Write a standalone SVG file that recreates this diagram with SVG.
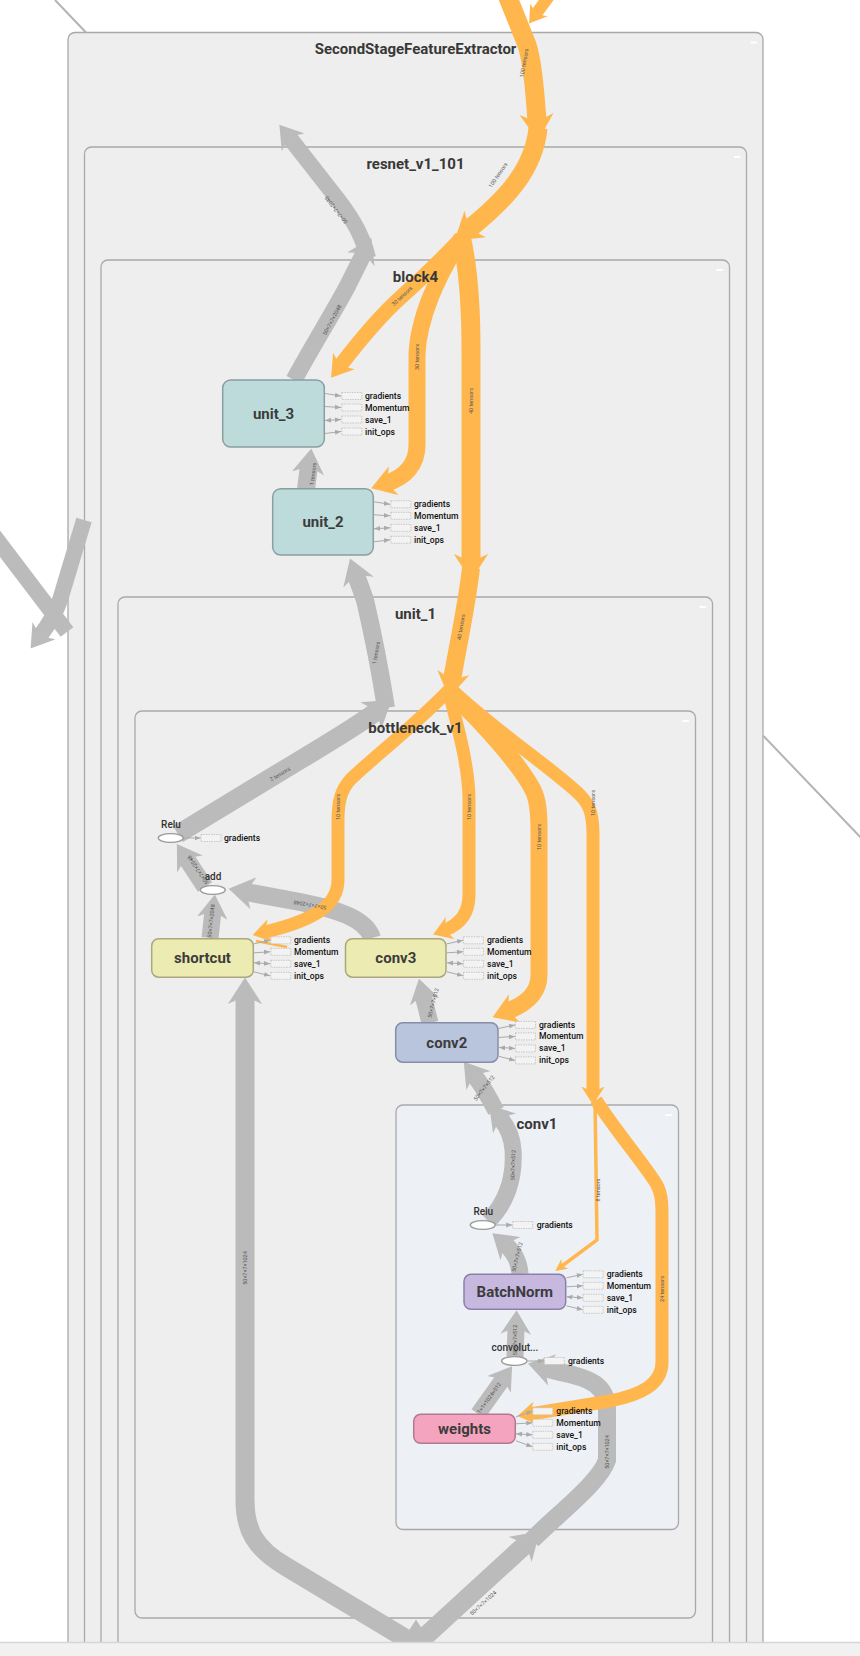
<svg xmlns="http://www.w3.org/2000/svg" width="860" height="1656" viewBox="0 0 860 1656">
<defs>
<style>
.ct{fill:#eeeeee;stroke:#a9a9a9;stroke-width:1.3}
.c1{fill:#edf0f5;stroke:#a9a9a9;stroke-width:1.3}
.ttl{font-family:Roboto,"Liberation Sans",sans-serif;font-size:15px;font-weight:bold;fill:#383838;text-anchor:middle}
.mn{stroke:#ffffff;stroke-width:1.8}
.ge{fill:none;stroke:#bbbbbb;marker-end:url(#ag)}
.gn{fill:none;stroke:#bbbbbb}
.oe{fill:none;stroke:#ffb74d;marker-end:url(#ao)}
.el{font-family:Roboto,"Liberation Sans",sans-serif;font-size:5.5px;fill:#555555;text-anchor:middle;dominant-baseline:central}
.nl{font-family:Roboto,"Liberation Sans",sans-serif;font-size:15px;font-weight:bold;fill:#3c3c3c;text-anchor:middle}
.ol{font-family:Roboto,"Liberation Sans",sans-serif;font-size:10px;font-weight:500;fill:#333333;text-anchor:middle}
.ab{fill:#f3f3f3;stroke:#bdbdbd;stroke-width:0.8;stroke-dasharray:1.5 1}
.at{font-family:Roboto,"Liberation Sans",sans-serif;font-size:8.6px;font-weight:500;fill:#111111}
.aa{stroke:#aaaaaa;stroke-width:1;fill:none;marker-end:url(#sa)}
.ad{stroke:#aaaaaa;stroke-width:1;fill:none;marker-end:url(#sa);marker-start:url(#ss)}
.op{fill:#ffffff;stroke:#9a9a9a;stroke-width:1.3}
</style>
<marker id="ag" viewBox="0 0 10 10" refX="3" refY="5" markerUnits="strokeWidth" markerWidth="1.4" markerHeight="1.8" orient="auto" preserveAspectRatio="none"><path d="M0,0L10,5L0,10L3,5z" fill="#bbbbbb"/></marker>
<marker id="ao" viewBox="0 0 10 10" refX="3" refY="5" markerUnits="strokeWidth" markerWidth="1.4" markerHeight="1.8" orient="auto" preserveAspectRatio="none"><path d="M0,0L10,5L0,10L3,5z" fill="#ffb74d"/></marker>
<marker id="aot" viewBox="0 0 10 10" refX="3" refY="5" markerUnits="userSpaceOnUse" markerWidth="12" markerHeight="12" orient="auto"><path d="M0,0L10,5L0,10L3,5z" fill="#ffb74d"/></marker>
<marker id="sa" viewBox="0 0 10 10" refX="10" refY="5" markerUnits="userSpaceOnUse" markerWidth="6" markerHeight="6" orient="auto"><path d="M0,1L10,5L0,9z" fill="#aaaaaa"/></marker>
<marker id="ss" viewBox="0 0 10 10" refX="10" refY="5" markerUnits="userSpaceOnUse" markerWidth="6" markerHeight="6" orient="auto-start-reverse"><path d="M0,1L10,5L0,9z" fill="#aaaaaa"/></marker>
</defs>
<rect width="860" height="1656" fill="#ffffff"/>

<g id="containers">
<g id="SecondStageFeatureExtractor"><rect class="ct" x="68" y="32.5" width="695" height="1700" rx="7"/><line class="mn" x1="750.5" y1="42.5" x2="757" y2="42.5"/></g>
<g id="resnet_v1_101"><rect class="ct" x="84.5" y="147" width="662" height="1600" rx="7"/><line class="mn" x1="734" y1="157" x2="740.5" y2="157"/></g>
<g id="block4"><rect class="ct" x="101" y="260" width="628.5" height="1500" rx="7"/><line class="mn" x1="716.5" y1="270" x2="723" y2="270"/></g>
<g id="unit_1"><rect class="ct" x="118" y="597" width="594.5" height="1200" rx="7"/><line class="mn" x1="699.5" y1="607" x2="706" y2="607"/></g>
<g id="bottleneck_v1"><rect class="ct" x="135" y="711" width="560.5" height="907" rx="7"/><line class="mn" x1="682.5" y1="721" x2="689" y2="721"/></g>
<g id="conv1"><rect class="c1" x="396" y="1105" width="282.5" height="424.5" rx="7"/><line class="mn" x1="665.5" y1="1115" x2="672" y2="1115"/></g>
</g>

<g id="edges">
<line x1="55" y1="0" x2="86" y2="32.5" stroke="#b4b4b4" stroke-width="2"/>
<line x1="763.5" y1="736" x2="866" y2="843" stroke="#b4b4b4" stroke-width="2"/>
<path class="gn" d="M-12,528 L67,632" stroke-width="16"/>
<path class="ge" d="M84,520 L60,600 Q55,616 40,636" stroke-width="16"/>

<path class="ge" d="M294,380 C310,350 335,310 348,285 L364,253" stroke-width="17"/>
<path class="ge" d="M368,258 C362,232 348,212 332,192 L289,137" stroke-width="16"/>
<path class="ge" d="M306,489 L309,466" stroke-width="18"/>
<path class="ge" d="M178,834 L300,760 C335,739 360,724 377,711" stroke-width="19"/>
<path class="ge" d="M386,708 C380,670 372,630 365,600 L356,575" stroke-width="18"/>
<path class="ge" d="M210,938 L213,911" stroke-width="17"/>
<path class="ge" d="M205,887 L186,858" stroke-width="17"/>
<path class="ge" d="M372,938 C366,918 335,909 300,902 L246,892" stroke-width="18"/>
<path class="ge" d="M430,1023 L423,995" stroke-width="17"/>
<path class="ge" d="M488,1221 C505,1205 515,1180 513,1150 C512,1135 506,1125 500,1118" stroke-width="17"/>
<path class="ge" d="M496,1111 C489,1097 481,1084 474,1075" stroke-width="17"/>
<path class="ge" d="M520,1274 C519,1260 512,1250 505,1244" stroke-width="17"/>
<path class="ge" d="M515,1357 L516,1327" stroke-width="17"/>
<path class="ge" d="M478,1414 L503,1379" stroke-width="16"/>
<path class="ge" d="M416,1680 L416,1638" stroke-width="19"/>
<path class="ge" d="M413,1643 L285,1566 C255,1548 245,1530 245,1500 L245,996" stroke-width="19"/>
<path class="ge" d="M418,1643 L526,1544" stroke-width="19"/>
<path class="ge" d="M532,1540 C560,1512 600,1482 607,1460 L607,1410 C607,1385 590,1378 560,1372 L545,1368" stroke-width="18"/>

<path class="oe" d="M552,-8 L536,14" stroke-width="12"/>
<path class="oe" d="M507,-5 L527,45 C532,60 535,90 537,122" stroke-width="19"/>
<path class="oe" d="M538,128 C534,170 505,200 469,229" stroke-width="19"/>
<path class="oe" d="M462,238 C445,256 420,280 400,298 C380,316 360,340 340,366" stroke-width="15"/>
<path class="oe" d="M462,238 C437,275 418,320 417,355 L417,445 C417,465 405,477 387,483" stroke-width="17"/>
<path class="oe" d="M461,236 C469,270 471,310 471,350 L471,562" stroke-width="19"/>
<path class="oe" d="M471,568 C466,610 457,650 452,680" stroke-width="18"/>
<path class="oe" d="M449,690 C410,730 370,760 350,780 C341,790 338,802 338,820 L338,880 C338,905 315,920 265,932" stroke-width="13"/>
<path class="oe" d="M449,692 C460,735 469,770 469,800 L469,895 C469,915 458,925 445,930" stroke-width="13"/>
<path class="oe" d="M450,692 C485,725 520,765 533,790 C538,800 539,812 539,830 L539,975 C539,992 528,1003 508,1011" stroke-width="17"/>
<path class="oe" d="M452,690 C500,735 555,770 580,795 C590,805 593,815 593,835 L593,1092" stroke-width="13"/>
<path d="M595,1100 L597,1240 L562,1266" fill="none" stroke="#ffb74d" stroke-width="3.5" marker-end="url(#aot)"/>
<path class="oe" d="M596,1100 C615,1130 645,1165 657,1185 C661,1193 662,1200 662,1215 L662,1362 C662,1385 640,1395 610,1401 L530,1414" stroke-width="13"/>
<path d="M256,941 L287,947" fill="none" stroke="#ffb74d" stroke-width="2.5"/>

<text class="el" transform="translate(332,320) rotate(-62)">50×7×7×2048</text>
<text class="el" transform="translate(336,210) rotate(-128)">50×7×7×2048</text>
<text class="el" transform="translate(313,474) rotate(-83)">1 tensors</text>
<text class="el" transform="translate(280,774) rotate(-31)">2 tensors</text>
<text class="el" transform="translate(376,653) rotate(-80)">1 tensors</text>
<text class="el" transform="translate(211,921) rotate(-84)">50×7×7×2048</text>
<text class="el" transform="translate(198,870) rotate(-124)">50×7×7×2048</text>
<text class="el" transform="translate(310,905) rotate(190)">50×7×7×2048</text>
<text class="el" transform="translate(433,1003) rotate(-76)">50×7×7×512</text>
<text class="el" transform="translate(513,1165) rotate(-88)">50×7×7×512</text>
<text class="el" transform="translate(484,1088) rotate(-52)">50×7×7×512</text>
<text class="el" transform="translate(517,1257) rotate(-76)">50×7×7×512</text>
<text class="el" transform="translate(515,1340) rotate(-90)">50×7×7×512</text>
<text class="el" transform="translate(489,1398) rotate(-54)">1×1×1024×512</text>
<text class="el" transform="translate(245,1268) rotate(-90)">50×7×7×1024</text>
<text class="el" transform="translate(483,1603) rotate(-42)">50×7×7×1024</text>
<text class="el" transform="translate(607,1452) rotate(-90)">50×7×7×1024</text>
<text class="el" transform="translate(524,63) rotate(-80)">100 tensors</text>
<text class="el" transform="translate(498,175) rotate(-56)">100 tensors</text>
<text class="el" transform="translate(402,296) rotate(-43)">30 tensors</text>
<text class="el" transform="translate(417,357) rotate(-90)">30 tensors</text>
<text class="el" transform="translate(471,401) rotate(-90)">40 tensors</text>
<text class="el" transform="translate(461,627) rotate(-80)">40 tensors</text>
<text class="el" transform="translate(338,807) rotate(-90)">10 tensors</text>
<text class="el" transform="translate(469,807) rotate(-90)">10 tensors</text>
<text class="el" transform="translate(539,837) rotate(-90)">10 tensors</text>
<text class="el" transform="translate(593,803) rotate(-90)">10 tensors</text>
<text class="el" transform="translate(597.5,1190) rotate(-90)" font-size="5">8 tensors</text>
<text class="el" transform="translate(662,1289) rotate(-90)">24 tensors</text>
</g>

<g id="container_titles">
<text class="ttl" x="415.5" y="54">SecondStageFeatureExtractor</text>
<text class="ttl" x="415.5" y="169">resnet_v1_101</text>
<text class="ttl" x="415.5" y="282">block4</text>
<text class="ttl" x="415.5" y="619">unit_1</text>
<text class="ttl" x="415.5" y="733">bottleneck_v1</text>
<text class="ttl" x="537" y="1128.5">conv1</text>
</g>

<g id="node_unit_3">
<rect x="222.7" y="380" width="101.6" height="67" rx="8" fill="#bddbdb" stroke="#8a9f9f" stroke-width="1.5"/>
<text class="nl" x="273.5" y="419">unit_3</text>
<path class="aa" d="M325,393.5L341,396"/><path class="aa" d="M325,406.5L341,407.5"/><path class="ad" d="M325,420.5L341,419.5"/><path class="aa" d="M325,433.5L341,431.5"/>
<rect class="ab" x="341.8" y="392.5" width="20" height="7"/><rect class="ab" x="341.8" y="404" width="20" height="7"/><rect class="ab" x="341.8" y="416" width="20" height="7"/><rect class="ab" x="341.8" y="428" width="20" height="7"/>
<text class="at" x="365" y="399">gradients</text><text class="at" x="365" y="410.5">Momentum</text><text class="at" x="365" y="422.5">save_1</text><text class="at" x="365" y="434.5">init_ops</text>
</g>
<g id="node_unit_2">
<rect x="272.7" y="488.7" width="100.6" height="66.4" rx="8" fill="#bddbdb" stroke="#8a9f9f" stroke-width="1.5"/>
<text class="nl" x="323" y="527">unit_2</text>
<path class="aa" d="M374,501.8L390,504.3"/><path class="aa" d="M374,514.8L390,515.8"/><path class="ad" d="M374,528.8L390,527.8"/><path class="aa" d="M374,541.8L390,539.8"/>
<rect class="ab" x="390.8" y="500.8" width="20" height="7"/><rect class="ab" x="390.8" y="512.3" width="20" height="7"/><rect class="ab" x="390.8" y="524.3" width="20" height="7"/><rect class="ab" x="390.8" y="536.3" width="20" height="7"/>
<text class="at" x="414" y="507.3">gradients</text><text class="at" x="414" y="518.8">Momentum</text><text class="at" x="414" y="530.8">save_1</text><text class="at" x="414" y="542.8">init_ops</text>
</g>
<g id="node_relu_bottleneck">
<ellipse class="op" cx="170.8" cy="838" rx="12.5" ry="4.3"/>
<text class="ol" x="171" y="828">Relu</text>
<path class="aa" d="M184,838L200.5,838"/><rect class="ab" x="201" y="834.5" width="20" height="7"/>
<text class="at" x="224" y="841">gradients</text>
</g>
<g id="node_add">
<ellipse class="op" cx="212.8" cy="890" rx="12.5" ry="4.3"/>
<text class="ol" x="213" y="880">add</text>
</g>
<g id="node_shortcut">
<rect x="151.7" y="938.7" width="101.6" height="38.5" rx="7" fill="#ecebb1" stroke="#aaa87c" stroke-width="1.5"/>
<text class="nl" x="202.5" y="963.2">shortcut</text>
<path class="aa" d="M254,943.8L270,940.3"/><path class="aa" d="M254,952.8L270,951.8"/><path class="ad" d="M254,962.8L270,963.8"/><path class="aa" d="M254,971.8L270,975.8"/>
<rect class="ab" x="270.8" y="936.8" width="20" height="7"/><rect class="ab" x="270.8" y="948.3" width="20" height="7"/><rect class="ab" x="270.8" y="960.3" width="20" height="7"/><rect class="ab" x="270.8" y="972.3" width="20" height="7"/>
<text class="at" x="294" y="943.3">gradients</text><text class="at" x="294" y="954.8">Momentum</text><text class="at" x="294" y="966.8">save_1</text><text class="at" x="294" y="978.8">init_ops</text>
</g>
<g id="node_conv3">
<rect x="345.5" y="938.7" width="100.5" height="38.5" rx="7" fill="#ecebb1" stroke="#aaa87c" stroke-width="1.5"/>
<text class="nl" x="395.8" y="963.2">conv3</text>
<path class="aa" d="M447,943.8L463,940.3"/><path class="aa" d="M447,952.8L463,951.8"/><path class="ad" d="M447,962.8L463,963.8"/><path class="aa" d="M447,971.8L463,975.8"/>
<rect class="ab" x="463.5" y="936.8" width="20" height="7"/><rect class="ab" x="463.5" y="948.3" width="20" height="7"/><rect class="ab" x="463.5" y="960.3" width="20" height="7"/><rect class="ab" x="463.5" y="972.3" width="20" height="7"/>
<text class="at" x="487" y="943.3">gradients</text><text class="at" x="487" y="954.8">Momentum</text><text class="at" x="487" y="966.8">save_1</text><text class="at" x="487" y="978.8">init_ops</text>
</g>
<g id="node_conv2">
<rect x="395.7" y="1022.7" width="102.3" height="39.5" rx="7" fill="#b9c4dd" stroke="#858ea6" stroke-width="1.5"/>
<text class="nl" x="446.8" y="1047.7">conv2</text>
<path class="aa" d="M499,1028.4L515,1024.9"/><path class="aa" d="M499,1037.4L515,1036.4"/><path class="ad" d="M499,1047.4L515,1048.4"/><path class="aa" d="M499,1056.4L515,1060.4"/>
<rect class="ab" x="515.5" y="1021.4" width="20" height="7"/><rect class="ab" x="515.5" y="1032.9" width="20" height="7"/><rect class="ab" x="515.5" y="1044.9" width="20" height="7"/><rect class="ab" x="515.5" y="1056.9" width="20" height="7"/>
<text class="at" x="539" y="1027.9">gradients</text><text class="at" x="539" y="1039.4">Momentum</text><text class="at" x="539" y="1051.4">save_1</text><text class="at" x="539" y="1063.4">init_ops</text>
</g>
<g id="node_relu_conv1">
<ellipse class="op" cx="482.8" cy="1225" rx="12.5" ry="4.3"/>
<text class="ol" x="483.3" y="1214.5">Relu</text>
<path class="aa" d="M496,1225L512.2,1225"/><rect class="ab" x="512.7" y="1221.5" width="20" height="7"/>
<text class="at" x="536.7" y="1228">gradients</text>
</g>
<g id="node_BatchNorm">
<rect x="464" y="1274.3" width="101.7" height="35" rx="7" fill="#c6b8df" stroke="#8d80a8" stroke-width="1.5"/>
<text class="nl" x="514.8" y="1297">BatchNorm</text>
<path class="aa" d="M566.5,1277.8L582.7,1274.3"/><path class="aa" d="M566.5,1286.8L582.7,1285.8"/><path class="ad" d="M566.5,1296.8L582.7,1297.8"/><path class="aa" d="M566.5,1305.8L582.7,1309.8"/>
<rect class="ab" x="583.2" y="1270.8" width="20" height="7"/><rect class="ab" x="583.2" y="1282.3" width="20" height="7"/><rect class="ab" x="583.2" y="1294.3" width="20" height="7"/><rect class="ab" x="583.2" y="1306.3" width="20" height="7"/>
<text class="at" x="606.7" y="1277.3">gradients</text><text class="at" x="606.7" y="1288.8">Momentum</text><text class="at" x="606.7" y="1300.8">save_1</text><text class="at" x="606.7" y="1312.8">init_ops</text>
</g>
<g id="node_convolution">
<ellipse class="op" cx="514.3" cy="1361" rx="12.7" ry="4.3"/>
<text class="ol" x="515" y="1351">convolut...</text>
<path class="aa" d="M527.5,1361L543.8,1361"/><rect class="ab" x="544.3" y="1357.5" width="20" height="7"/>
<text class="at" x="568" y="1364">gradients</text>
</g>
<g id="node_weights">
<rect x="413.7" y="1414.3" width="101.6" height="29" rx="7" fill="#f5a4bf" stroke="#b27a8e" stroke-width="1.5"/>
<text class="nl" x="464.5" y="1434">weights</text>
<path class="aa" d="M516,1416.8L532.3,1411.3"/><path class="aa" d="M516,1423.8L532.3,1422.8"/><path class="ad" d="M516,1433.8L532.3,1434.8"/><path class="aa" d="M516,1440.8L532.3,1446.8"/>
<rect class="ab" x="532.8" y="1407.8" width="20" height="7"/><rect class="ab" x="532.8" y="1419.3" width="20" height="7"/><rect class="ab" x="532.8" y="1431.3" width="20" height="7"/><rect class="ab" x="532.8" y="1443.3" width="20" height="7"/>
<text class="at" x="556.3" y="1414.3">gradients</text><text class="at" x="556.3" y="1425.8">Momentum</text><text class="at" x="556.3" y="1437.8">save_1</text><text class="at" x="556.3" y="1449.8">init_ops</text>
</g>

<rect x="0" y="1642" width="860" height="14" fill="#f1f1f1"/>
<line x1="0" y1="1642.5" x2="860" y2="1642.5" stroke="#d6d6d6" stroke-width="1.5"/>
</svg>
